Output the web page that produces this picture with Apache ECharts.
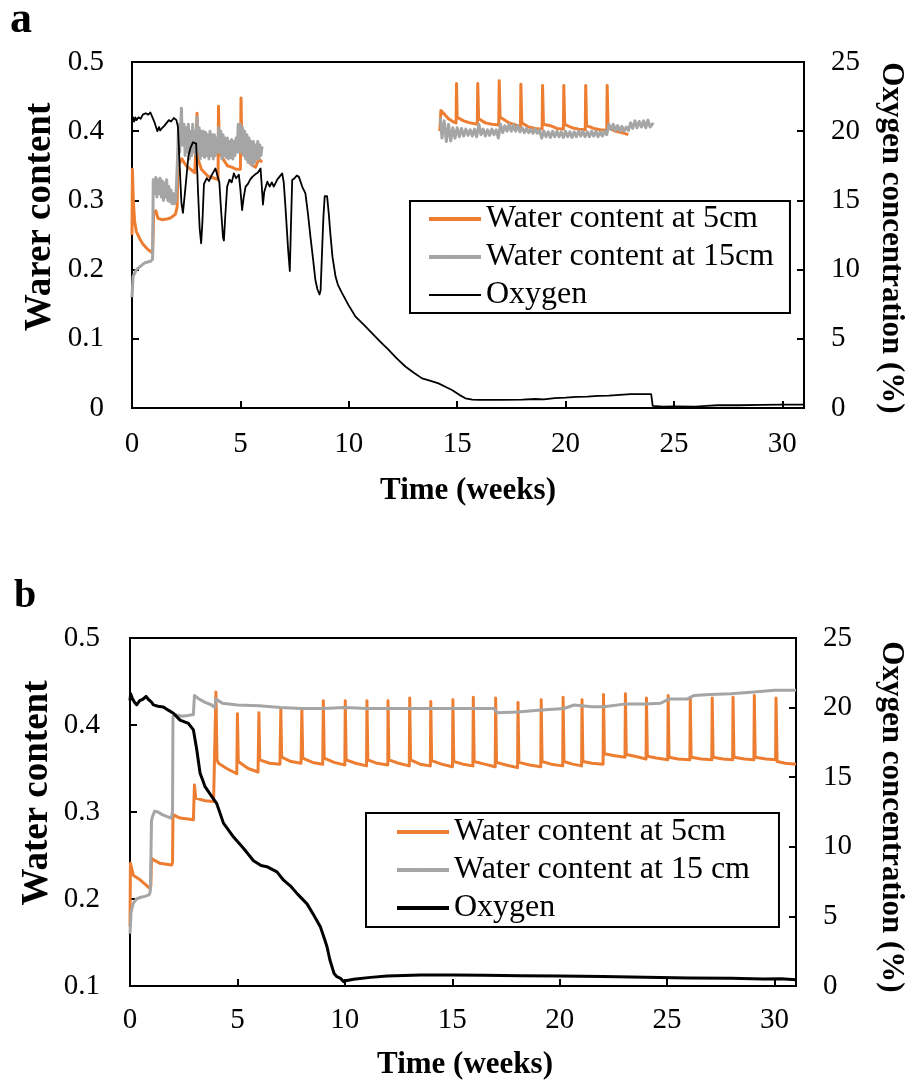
<!DOCTYPE html>
<html>
<head>
<meta charset="utf-8">
<script src="https://cdn.jsdelivr.net/npm/echarts@6/dist/echarts.min.js"></script>
<style>
html,body{margin:0;padding:0;background:#fff;}
#chartA,#chartB{width:909px;height:543px;}
</style>
</head>
<body>
<div id="chartA"></div>
<div id="chartB"></div>
<script>
// ---------- axis settings / labels ----------
const xRange = [0, 31];
const xInterval = 5;
const waterRangeA = [0, 0.5];
const waterRangeB = [0.1, 0.5];
const waterInterval = 0.1;
const oxygenRange = [0, 25];
const oxygenInterval = 5;

const namesA = ['Water content at 5cm', 'Water content at 15cm', 'Oxygen'];
const namesB = ['Water content at 5cm', 'Water content at 15 cm', 'Oxygen'];
const titlesA = { panel: 'a', left: 'Warer content', right: 'Oxygen concentration (%)', bottom: 'Time (weeks)' };
const titlesB = { panel: 'b', left: 'Water content', right: 'Oxygen concentration (%)', bottom: 'Time (weeks)' };

// ---------- panel a data: [week, value] ----------
const a_w5_seg1 = [[0,0.25],[0.02,0.345],[0.06,0.30],[0.12,0.27],[0.2,0.255],[0.35,0.245],[0.5,0.237],[0.7,0.23],[0.95,0.224],[1.0,0.28],[1.1,0.285],[1.2,0.274],[1.4,0.272],[1.6,0.273],[1.8,0.275],[2.0,0.28],[2.08,0.29],[2.12,0.35],[2.3,0.36],[2.5,0.35],[2.7,0.345],[2.9,0.34],[2.98,0.34],[3.0,0.426],[3.04,0.36],[3.2,0.345],[3.5,0.335],[3.8,0.332],[3.97,0.33],[3.99,0.436],[4.03,0.37],[4.2,0.36],[4.4,0.35],[4.6,0.348],[4.8,0.345],[5.0,0.345],[5.03,0.448],[5.07,0.37],[5.3,0.36],[5.5,0.352],[5.7,0.348],[5.85,0.36],[6.0,0.355]];
const a_w5_seg2 = [[14.2,0.40],[14.25,0.43],[14.4,0.425],[14.6,0.418],[14.8,0.414],[14.95,0.412],[14.97,0.469],[15.0,0.42],[15.3,0.415],[15.6,0.412],[15.93,0.41],[15.95,0.469],[15.99,0.418],[16.3,0.412],[16.6,0.41],[16.92,0.409],[16.94,0.473],[16.98,0.42],[17.1,0.418],[17.4,0.412],[17.7,0.409],[17.92,0.407],[17.94,0.468],[17.98,0.412],[18.3,0.406],[18.6,0.404],[18.92,0.403],[18.94,0.466],[18.98,0.41],[19.3,0.408],[19.6,0.404],[19.9,0.403],[19.92,0.466],[19.96,0.41],[20.3,0.405],[20.6,0.403],[20.91,0.402],[20.93,0.466],[20.97,0.408],[21.3,0.404],[21.6,0.402],[21.9,0.401],[21.92,0.466],[21.96,0.405],[22.3,0.4],[22.6,0.398],[22.9,0.395]];
const a_w15_seg1 = [[0,0.16],[0.05,0.19],[0.2,0.2],[0.4,0.205],[0.6,0.21],[0.85,0.212],[0.95,0.215],[0.98,0.33],[1.05,0.31],[1.1,0.333],[1.15,0.305],[1.2,0.33],[1.25,0.31],[1.3,0.332],[1.35,0.305],[1.4,0.328],[1.45,0.3],[1.5,0.325],[1.55,0.305],[1.6,0.33],[1.65,0.3],[1.7,0.32],[1.75,0.298],[1.8,0.315],[1.85,0.295],[1.9,0.31],[1.95,0.295],[2.02,0.3],[2.1,0.36],[2.15,0.41],[2.2,0.37],[2.28,0.433],[2.32,0.38],[2.4,0.41],[2.45,0.365],[2.5,0.405],[2.55,0.37],[2.6,0.41],[2.65,0.36],[2.7,0.4],[2.75,0.365],[2.8,0.41],[2.85,0.37],[2.9,0.4],[2.95,0.365],[3.0,0.42],[3.05,0.37],[3.1,0.405],[3.15,0.36],[3.2,0.4],[3.25,0.365],[3.3,0.4],[3.35,0.362],[3.4,0.398],[3.45,0.365],[3.5,0.395],[3.55,0.36],[3.6,0.4],[3.65,0.365],[3.7,0.395],[3.75,0.36],[3.8,0.395],[3.85,0.365],[3.9,0.39],[3.95,0.37],[4.0,0.405],[4.05,0.37],[4.1,0.4],[4.15,0.36],[4.2,0.395],[4.25,0.365],[4.3,0.39],[4.35,0.362],[4.4,0.39],[4.45,0.36],[4.5,0.385],[4.55,0.362],[4.6,0.388],[4.65,0.36],[4.7,0.385],[4.75,0.365],[4.8,0.39],[4.85,0.37],[4.9,0.41],[4.95,0.37],[5.0,0.41],[5.05,0.37],[5.1,0.405],[5.15,0.365],[5.2,0.4],[5.25,0.36],[5.3,0.395],[5.35,0.355],[5.4,0.39],[5.45,0.355],[5.5,0.385],[5.55,0.35],[5.6,0.385],[5.65,0.355],[5.7,0.38],[5.75,0.36],[5.8,0.385],[5.85,0.36],[5.9,0.38],[5.95,0.365],[6.0,0.378]];
const a_w15_seg2 = [[14.22,0.42],[14.3,0.39],[14.4,0.415],[14.5,0.385],[14.6,0.41],[14.7,0.386],[14.8,0.405],[14.9,0.39],[15.0,0.405],[15.1,0.392],[15.2,0.404],[15.3,0.393],[15.4,0.403],[15.5,0.394],[15.6,0.402],[15.7,0.393],[15.8,0.403],[15.9,0.392],[16.0,0.41],[16.1,0.395],[16.2,0.403],[16.3,0.393],[16.4,0.402],[16.5,0.394],[16.6,0.403],[16.7,0.395],[16.8,0.402],[16.9,0.39],[17.0,0.41],[17.1,0.398],[17.2,0.408],[17.3,0.4],[17.4,0.41],[17.5,0.4],[17.6,0.409],[17.7,0.4],[17.8,0.408],[17.9,0.399],[18.0,0.405],[18.1,0.398],[18.2,0.404],[18.3,0.398],[18.4,0.403],[18.5,0.397],[18.6,0.403],[18.7,0.397],[18.8,0.402],[18.9,0.39],[19.0,0.4],[19.1,0.392],[19.2,0.399],[19.3,0.391],[19.4,0.4],[19.5,0.392],[19.6,0.4],[19.7,0.392],[19.8,0.399],[19.9,0.391],[20.0,0.4],[20.1,0.392],[20.2,0.399],[20.3,0.391],[20.4,0.399],[20.5,0.392],[20.6,0.4],[20.7,0.393],[20.8,0.4],[20.9,0.392],[21.0,0.399],[21.1,0.392],[21.2,0.4],[21.3,0.393],[21.4,0.4],[21.5,0.392],[21.6,0.399],[21.7,0.393],[21.8,0.4],[21.9,0.395],[22.0,0.41],[22.1,0.402],[22.2,0.41],[22.3,0.401],[22.4,0.408],[22.5,0.4],[22.6,0.407],[22.7,0.4],[22.8,0.406],[22.9,0.401],[23.0,0.412],[23.1,0.404],[23.2,0.415],[23.3,0.405],[23.4,0.414],[23.5,0.406],[23.6,0.415],[23.7,0.405],[23.8,0.416],[23.9,0.406],[24.05,0.412]];
const a_oxygen = [[0,20.6],[0.05,21.0],[0.1,20.7],[0.15,21.0],[0.2,20.8],[0.3,21.0],[0.4,20.9],[0.5,21.2],[0.63,21.3],[0.75,21.2],[0.85,21.35],[0.94,21.3],[1.05,20.6],[1.17,20.0],[1.25,20.3],[1.3,20.05],[1.4,20.25],[1.5,20.4],[1.6,20.6],[1.7,20.8],[1.8,20.7],[1.93,20.95],[2.05,20.8],[2.12,20.3],[2.2,17.5],[2.28,14.8],[2.35,14.1],[2.42,15.2],[2.5,16.5],[2.6,18.2],[2.7,18.8],[2.81,19.2],[2.9,19.3],[2.96,19.1],[3.05,15.5],[3.12,13.0],[3.19,11.9],[3.25,13.5],[3.32,16.2],[3.45,16.6],[3.55,16.4],[3.7,16.9],[3.85,17.3],[3.93,17.2],[4.03,16.3],[4.1,14.5],[4.2,12.3],[4.24,12.1],[4.3,13.8],[4.39,16.0],[4.5,16.5],[4.6,16.3],[4.7,16.95],[4.8,16.6],[4.93,16.85],[5.0,15.8],[5.08,14.3],[5.15,15.2],[5.24,16.0],[5.35,16.2],[5.45,16.5],[5.55,16.7],[5.7,16.9],[5.8,17.0],[5.93,17.3],[5.98,16.2],[6.04,14.7],[6.1,15.6],[6.24,16.35],[6.35,16.0],[6.45,16.3],[6.54,16.0],[6.7,16.5],[6.8,16.7],[6.93,16.95],[7.0,16.3],[7.08,14.5],[7.2,11.5],[7.28,9.9],[7.33,13.0],[7.39,16.47],[7.5,16.6],[7.6,16.8],[7.7,16.7],[7.77,16.6],[7.85,16.0],[8.0,15.5],[8.12,14.0],[8.23,12.4],[8.35,10.8],[8.46,9.25],[8.55,8.6],[8.65,8.2],[8.7,8.5],[8.77,11.4],[8.83,13.8],[8.89,15.3],[8.95,15.4],[9.0,15.3],[9.08,14.0],[9.15,12.6],[9.25,10.9],[9.39,9.5],[9.5,8.9],[9.69,8.3],[10.0,7.4],[10.31,6.6],[10.7,6.0],[11.08,5.4],[11.45,4.8],[11.84,4.2],[12.2,3.6],[12.61,3.0],[13.0,2.55],[13.38,2.14],[13.7,2.0],[14.14,1.78],[14.5,1.5],[14.76,1.3],[15.1,0.95],[15.38,0.7],[15.7,0.6],[16.0,0.58],[17,0.58],[18,0.6],[18.6,0.65],[19,0.62],[19.5,0.72],[20,0.75],[20.5,0.8],[21,0.82],[21.5,0.87],[22,0.9],[22.5,0.95],[23,1.0],[23.5,1.0],[23.95,1.0],[24.02,0.15],[24.5,0.1],[25,0.12],[26,0.1],[26.5,0.15],[27,0.2],[28,0.2],[29,0.22],[30,0.25],[31,0.25]];

// ---------- panel b data: [week, value] ----------
const b_w5 = [[0,0.168],[0.02,0.241],[0.16,0.227],[0.47,0.222],[0.7,0.217],[0.93,0.212],[0.97,0.215],[1.0,0.247],[1.1,0.245],[1.4,0.241],[1.7,0.24],[1.94,0.239],[1.98,0.242],[2.0,0.297],[2.33,0.293],[2.7,0.292],[2.95,0.291],[3.0,0.331],[3.06,0.316],[3.14,0.314],[3.5,0.313],[3.89,0.312],[3.98,0.313],[4.0,0.438],[4.05,0.36],[4.12,0.356],[4.5,0.35],[4.97,0.344],
[4.99,0.344],[5.0,0.413],[5.04,0.358],[5.13,0.356],[5.5,0.35],[5.96,0.346],
[5.98,0.346],[6.0,0.414],[6.04,0.36],[6.5,0.356],[6.98,0.355],
[7.0,0.355],[7.02,0.418],[7.06,0.363],[7.5,0.358],[7.96,0.356],
[7.98,0.356],[8.0,0.418],[8.04,0.362],[8.5,0.357],[8.97,0.355],
[8.98,0.355],[9.0,0.428],[9.04,0.362],[9.5,0.357],[10.0,0.354],
[10.01,0.354],[10.02,0.428],[10.06,0.36],[10.5,0.356],[11.01,0.353],
[11.02,0.353],[11.03,0.428],[11.07,0.36],[11.5,0.356],[12.0,0.354],
[12.005,0.354],[12.01,0.428],[12.05,0.36],[12.5,0.356],[13.0,0.353],
[13.01,0.353],[13.02,0.431],[13.06,0.36],[13.5,0.355],[13.98,0.353],
[13.99,0.353],[14.0,0.427],[14.04,0.359],[14.5,0.355],[15.01,0.352],
[15.02,0.352],[15.03,0.429],[15.07,0.358],[15.5,0.355],[15.96,0.353],
[15.97,0.353],[15.98,0.432],[16.02,0.358],[16.5,0.355],[17.0,0.352],
[17.01,0.352],[17.02,0.431],[17.06,0.357],[17.5,0.354],[18.04,0.351],
[18.05,0.351],[18.06,0.426],[18.1,0.357],[18.6,0.354],[19.12,0.352],
[19.13,0.352],[19.14,0.429],[19.18,0.358],[19.6,0.355],[20.14,0.353],
[20.15,0.353],[20.16,0.432],[20.2,0.358],[20.6,0.355],[21.02,0.353],
[21.03,0.353],[21.04,0.429],[21.08,0.358],[21.5,0.356],[22.02,0.355],
[22.03,0.355],[22.04,0.435],[22.08,0.367],[22.5,0.365],[23.04,0.363],
[23.05,0.363],[23.06,0.436],[23.1,0.366],[23.5,0.364],[24.02,0.361],
[24.03,0.361],[24.04,0.431],[24.08,0.364],[24.5,0.362],[25.03,0.36],
[25.04,0.36],[25.05,0.434],[25.09,0.363],[25.5,0.361],[26.06,0.36],
[26.07,0.36],[26.08,0.431],[26.12,0.363],[26.6,0.361],[27.08,0.36],
[27.09,0.36],[27.1,0.431],[27.14,0.363],[27.6,0.361],[28.05,0.36],
[28.06,0.36],[28.07,0.432],[28.11,0.363],[28.6,0.361],[29.04,0.36],
[29.05,0.36],[29.06,0.434],[29.1,0.363],[29.6,0.361],[30.05,0.36],
[30.06,0.36],[30.07,0.431],[30.12,0.358],[30.5,0.356],[31,0.355]];
const b_w15 = [[0,0.16],[0.05,0.185],[0.15,0.195],[0.3,0.2],[0.5,0.202],[0.7,0.203],[0.9,0.205],[0.95,0.21],[1.0,0.29],[1.05,0.295],[1.15,0.301],[1.3,0.3],[1.5,0.297],[1.7,0.295],[1.92,0.293],[1.98,0.3],[2.0,0.41],[2.1,0.412],[2.4,0.41],[2.7,0.411],[2.95,0.412],[3.0,0.434],[3.2,0.43],[3.5,0.426],[3.8,0.423],[3.95,0.42],[4.0,0.43],[4.3,0.425],[5,0.423],[6,0.422],[7,0.42],[8,0.419],[9,0.419],[10,0.42],[11,0.419],[12,0.419],[13,0.419],[14,0.419],[15,0.419],[16,0.419],[16.94,0.419],[17.1,0.414],[18.03,0.415],[19,0.417],[20.2,0.419],[20.67,0.423],[21.5,0.421],[22.07,0.421],[23,0.424],[24,0.424],[24.7,0.425],[25.1,0.43],[25.95,0.43],[26.26,0.434],[27,0.435],[27.97,0.436],[29.06,0.438],[30,0.44],[31,0.44]];
const b_oxygen = [[0,20.5],[0.03,21.0],[0.1,20.7],[0.2,20.4],[0.31,20.2],[0.45,20.5],[0.6,20.6],[0.75,20.8],[0.85,20.6],[0.93,20.7],[1.0,20.4],[1.09,20.2],[1.3,20.1],[1.55,20.05],[1.8,19.8],[2.02,19.6],[2.33,19.1],[2.72,18.86],[2.95,18.4],[3.11,16.95],[3.26,15.3],[3.5,14.3],[3.81,13.6],[4.04,13.1],[4.35,11.7],[4.82,10.7],[5.28,9.9],[5.75,9.0],[6.1,8.65],[6.37,8.57],[6.84,8.2],[7.15,7.6],[7.46,7.2],[7.8,6.6],[8.24,5.9],[8.55,5.1],[8.86,4.26],[9.05,3.4],[9.17,2.82],[9.3,1.9],[9.4,1.39],[9.5,0.9],[9.63,0.67],[9.8,0.55],[9.95,0.31],[10.1,0.4],[10.41,0.48],[11.2,0.62],[11.96,0.72],[13.52,0.79],[15.07,0.79],[16.5,0.77],[18.18,0.74],[20,0.72],[22,0.68],[24,0.62],[26,0.58],[28,0.55],[29.5,0.5],[30.3,0.52],[31,0.45]];

// ---------- styling ----------
const ORANGE = '#ED7D31', GRAY = '#A5A5A5', BLACK = '#000000';
const SERIF = '"Liberation Serif", "Times New Roman", serif';
const GAP = [[10, null]];

function axisCommon(){
  return {
    axisLine:{show:true,onZero:false,lineStyle:{color:BLACK,width:2}},
    axisTick:{show:true,inside:true,length:7,lineStyle:{color:BLACK,width:2}},
    splitLine:{show:false}
  };
}
function titleText(text, x, y, rot, size){
  return {type:'text', x:x, y:y, rotation:rot, silent:true,
    style:{text:text, fill:BLACK, font:'bold '+size+'px '+SERIF,
      textAlign:'center', textVerticalAlign:'middle', align:'center', verticalAlign:'middle'}};
}
function lineSeries(name, data, color, width, yIdx, z){
  return {name:name, type:'line', data:data, yAxisIndex:yIdx, showSymbol:false, symbol:'none',
    connectNulls:false, clip:true, z:z, sampling:null,
    lineStyle:{color:color, width:width, join:'round'}, itemStyle:{color:color}};
}
function buildOption(p){
  return {
    animation:false,
    backgroundColor:'#ffffff',
    grid:{left:p.grid[0], top:p.grid[1], width:p.grid[2], height:p.grid[3], show:true,
      borderColor:BLACK, borderWidth:2, backgroundColor:'transparent', containLabel:false, outerBoundsMode:'none'},
    xAxis:Object.assign({type:'value', min:xRange[0], max:xRange[1], interval:xInterval,
      axisLabel:{color:BLACK, fontFamily:SERIF, fontSize:29, margin:p.xMargin}}, axisCommon()),
    yAxis:[
      Object.assign({type:'value', position:'left', min:p.waterRange[0], max:p.waterRange[1], interval:waterInterval,
        axisLabel:{color:BLACK, fontFamily:SERIF, fontSize:29, margin:p.yMargin}}, axisCommon()),
      Object.assign({type:'value', position:'right', min:oxygenRange[0], max:oxygenRange[1], interval:oxygenInterval,
        axisLabel:{color:BLACK, fontFamily:SERIF, fontSize:29, margin:27}}, axisCommon())
    ],
    legend:{show:true, orient:'vertical', left:p.legend[0], top:p.legend[1], padding:p.legendPad,
      itemGap:6, itemWidth:52, itemHeight:2, borderColor:BLACK, borderWidth:2, backgroundColor:'#fff',
      selectedMode:false,
      data:p.names.map(function(n, i){ return {name:n, lineStyle:{width:p.legendWidths[i]}}; }),
      textStyle:{fontFamily:SERIF, fontSize:32, color:BLACK, lineHeight:32}},
    graphic:[
      titleText(p.titles.panel, p.panelPos[0], p.panelPos[1], 0, p.panelSize),
      titleText(p.titles.left, p.leftPos[0], p.leftPos[1], Math.PI/2, 37),
      titleText(p.titles.right, p.rightPos[0], p.rightPos[1], -Math.PI/2, 31),
      titleText(p.titles.bottom, p.bottomPos[0], p.bottomPos[1], 0, 31)
    ],
    series:p.series
  };
}

const optA = buildOption({
  grid:[132, 62, 672, 346], xMargin:22, yMargin:28, waterRange:waterRangeA,
  legend:[410, 201], legendPad:[2,16,2,17], names:namesA, legendWidths:[4,4,1.8], titles:titlesA,
  panelPos:[21,21], panelSize:44, leftPos:[40,217], rightPos:[891,238], bottomPos:[468,491],
  series:[
    lineSeries(namesA[0], a_w5_seg1.concat(GAP, a_w5_seg2), ORANGE, 3, 0, 2),
    lineSeries(namesA[1], a_w15_seg1.concat(GAP, a_w15_seg2), GRAY, 3, 0, 3),
    lineSeries(namesA[2], a_oxygen, BLACK, 1.8, 1, 4)
  ]
});
const optB = buildOption({
  grid:[130, 95, 666, 348], xMargin:20, yMargin:30, waterRange:waterRangeB,
  legend:[366, 270], legendPad:[3,29,3,29], names:namesB, legendWidths:[4,4,4], titles:titlesB,
  panelPos:[25,54], panelSize:40, leftPos:[37,250], rightPos:[891,274], bottomPos:[465,522],
  series:[
    lineSeries(namesB[0], b_w5, ORANGE, 3, 0, 2),
    lineSeries(namesB[1], b_w15, GRAY, 3, 0, 3),
    lineSeries(namesB[2], b_oxygen, BLACK, 3, 1, 4)
  ]
});

echarts.init(document.getElementById('chartA'), null, {renderer:'canvas'}).setOption(optA);
echarts.init(document.getElementById('chartB'), null, {renderer:'canvas'}).setOption(optB);
</script>
</body>
</html>
